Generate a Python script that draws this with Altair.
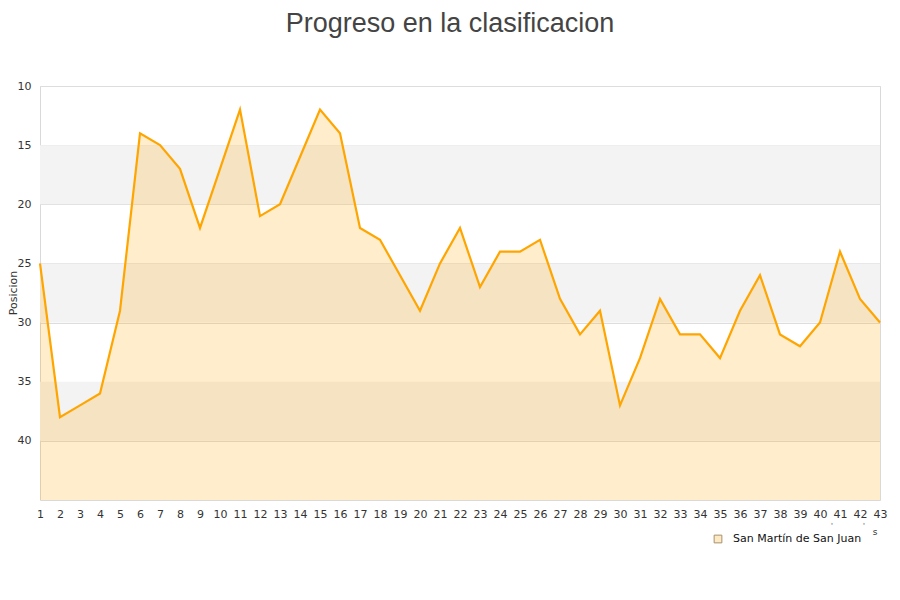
import altair as alt
import pandas as pd

jornadas = list(range(1, 44))
posicion = [25, 38, 37, 36, 29, 14, 15, 17, 22, 17, 12, 21, 20, 16, 12, 14, 22, 23, 26, 29,
            25, 22, 27, 24, 24, 23, 28, 31, 29, 37, 33, 28, 31, 31, 33, 29, 26, 31, 32, 30,
            24, 28, 30]
team = "San Martín de San Juan"
band_start = [15, 25, 35]
band_end = [20, 30, 40]
y_ticks = [10, 15, 20, 25, 30, 35, 40]

W, H = 840, 414

df = pd.DataFrame({"Jornada": jornadas, "Posicion": posicion})
bands = pd.DataFrame({"y0": band_start, "y1": band_end})

yscale = alt.Scale(domain=[10, 45], reverse=True, nice=False, zero=False)
xscale = alt.Scale(domain=[1, 43], nice=False, zero=False)

xaxis = alt.Axis(values=jornadas, title=None, ticks=False, domain=False, grid=False,
                 labelPadding=8, labelFontSize=11, labelColor="#333",
                 labelFont="DejaVu Sans", labelFlush=False, labelOverlap=False)
yaxis = alt.Axis(values=y_ticks, title=None, ticks=False, domain=False,
                 grid=True, gridColor="#dddddd", labelPadding=9, labelFontSize=11,
                 labelColor="#333", labelFont="DejaVu Sans")

band_layer = alt.Chart(bands).mark_rect(color="#f3f3f3").encode(
    x=alt.value(0), x2=alt.value(W),
    y=alt.Y("y0:Q", scale=yscale, axis=yaxis), y2="y1:Q",
)

area = alt.Chart(df).mark_area(opacity=0.2, color="orange").encode(
    x=alt.X("Jornada:Q", scale=xscale, axis=xaxis),
    y=alt.Y("Posicion:Q", scale=yscale, axis=yaxis),
    y2=alt.datum(45),
)

line = alt.Chart(df).mark_line(color="orange", strokeWidth=2.2).encode(
    x=alt.X("Jornada:Q", scale=xscale, axis=xaxis),
    y=alt.Y("Posicion:Q", scale=yscale, axis=yaxis),
)

def text_layer(txt, x, y, size, font="DejaVu Sans", color="#333", angle=0,
               baseline="middle", align="center"):
    return alt.Chart(pd.DataFrame({"t": [txt]})).mark_text(
        font=font, fontSize=size, color=color, align=align, baseline=baseline, angle=angle
    ).encode(text="t:N", x=alt.value(x), y=alt.value(y))

title = text_layer("Progreso en la clasificacion", 410, -54, 27, font="Liberation Sans",
                   color="#444", baseline="alphabetic")
ytitle = text_layer("Posicion", -26, 207, 11, angle=270)
stray = text_layer("s", 835, 446, 9)
dot1 = text_layer("'", 792, 440, 7)
dot2 = text_layer("'", 824, 440, 7)

legend_sym = alt.Chart(pd.DataFrame({"t": [team]})).mark_point(
    shape="square", size=60, filled=True, fill="#fde9c4", stroke="#a89070", strokeWidth=1,
    opacity=1
).encode(x=alt.value(678), y=alt.value(453))
legend_txt = text_layer(team, 693, 453, 11, color="#111", align="left")

chart = alt.layer(band_layer, area, line, title, ytitle, stray, dot1, dot2,
                  legend_sym, legend_txt).properties(
    width=W, height=H,
    autosize=alt.AutoSizeParams(type="none"),
    padding={"left": 32, "top": 78, "right": 12, "bottom": 80},
).configure_view(stroke="#d9d9d9", strokeWidth=1
).configure_axisX(labelOverlap=False)

chart.save("out.html", embed_options={"renderer": "svg", "actions": False})
